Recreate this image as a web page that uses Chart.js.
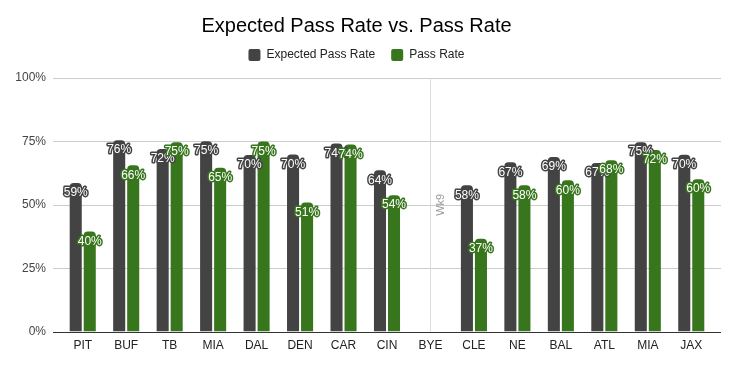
<!DOCTYPE html>
<html lang="en">
<head>
    <meta charset="UTF-8">
    <title>Expected Pass Rate vs. Pass Rate</title>
    <script src="https://cdn.jsdelivr.net/npm/chart.js"></script>
</head>
<body style="margin:0;background:#fff;">
    <div style="position:relative;width:736px;height:366px;">
        <canvas id="passChart"></canvas>
    </div>
    <script>
        // chart data (percent)
        const teams = ['PIT', 'BUF', 'TB', 'MIA', 'DAL', 'DEN', 'CAR', 'CIN', 'BYE', 'CLE', 'NE', 'BAL', 'ATL', 'MIA', 'JAX'];
        const expectedRate = [58.6, 75.5, 72, 75.1, 69.6, 69.8, 74.2, 63.6, null, 57.7, 66.8, 68.8, 66.5, 74.7, 69.7];
        const passRate = [39.5, 65.6, 74.7, 64.6, 75, 50.9, 73.8, 53.8, null, 36.6, 57.7, 59.7, 67.6, 71.6, 60.1];
        const yTicks = [0, 25, 50, 75, 100];
        const byeLabel = 'Wk9';

        const FONT = 'Arial, "Liberation Sans", sans-serif';

        // grid lines, bye week marker, baseline, value labels
        const extras = {
            id: 'extras',
            beforeInit(chart) {
                // leave a little room between legend and plot
                const lg = chart.legend;
                if (lg) {
                    const fit = lg.fit.bind(lg);
                    lg.fit = function () { fit(); this.height += 7; };
                }
            },
            beforeDatasetsDraw(chart) {
                const { ctx, chartArea, scales } = chart;
                const y = scales.y, x = scales.x;
                ctx.save();
                ctx.strokeStyle = '#cccccc';
                ctx.lineWidth = 1;
                yTicks.forEach(v => {
                    if (v === 0) return;
                    const py = Math.round(y.getPixelForValue(v)) + 0.5;
                    ctx.beginPath();
                    ctx.moveTo(chartArea.left - 8, py);
                    ctx.lineTo(chartArea.right + 8, py);
                    ctx.stroke();
                });
                // bye week line
                const bi = teams.indexOf('BYE');
                const bx = Math.round(x.getPixelForValue(bi)) + 0.5;
                ctx.strokeStyle = '#dddddd';
                ctx.beginPath();
                ctx.moveTo(bx, y.getPixelForValue(100));
                ctx.lineTo(bx, y.getPixelForValue(0));
                ctx.stroke();
                ctx.translate(bx + 10, y.getPixelForValue(50));
                ctx.rotate(-Math.PI / 2);
                ctx.fillStyle = '#999999';
                ctx.font = '11px ' + FONT;
                ctx.textAlign = 'center';
                ctx.textBaseline = 'middle';
                ctx.fillText(byeLabel, 0, 0);
                ctx.restore();
            },
            afterDatasetsDraw(chart) {
                const { ctx, chartArea, scales } = chart;
                ctx.save();
                const py = Math.round(scales.y.getPixelForValue(0)) + 0.5;
                ctx.strokeStyle = '#333333';
                ctx.lineWidth = 1;
                ctx.beginPath();
                ctx.moveTo(chartArea.left - 8, py);
                ctx.lineTo(chartArea.right + 8, py);
                ctx.stroke();

                ctx.font = '12px ' + FONT;
                ctx.textAlign = 'center';
                ctx.textBaseline = 'middle';
                ctx.lineJoin = 'round';
                ctx.lineWidth = 3;
                chart.data.datasets.forEach((ds, di) => {
                    const meta = chart.getDatasetMeta(di);
                    meta.data.forEach((bar, i) => {
                        const v = ds.data[i];
                        if (v === null) return;
                        const txt = Math.round(v) + '%';
                        ctx.strokeStyle = ds.backgroundColor;
                        ctx.fillStyle = '#ffffff';
                        ctx.strokeText(txt, bar.x, bar.y + 10);
                        ctx.fillText(txt, bar.x, bar.y + 10);
                    });
                });
                ctx.restore();
            }
        };

        new Chart(document.getElementById('passChart'), {
            type: 'bar',
            data: {
                labels: teams,
                datasets: [
                    {
                        label: 'Expected Pass Rate',
                        data: expectedRate,
                        backgroundColor: '#434343',
                        borderRadius: { topLeft: 4, topRight: 4 },
                        borderSkipped: 'bottom',
                        categoryPercentage: 0.645,
                        barPercentage: 0.86
                    },
                    {
                        label: 'Pass Rate',
                        data: passRate,
                        backgroundColor: '#38761d',
                        borderRadius: { topLeft: 4, topRight: 4 },
                        borderSkipped: 'bottom',
                        categoryPercentage: 0.645,
                        barPercentage: 0.86
                    }
                ]
            },
            options: {
                responsive: true,
                maintainAspectRatio: false,
                animation: false,
                layout: { padding: { top: 0, right: 23, bottom: 6, left: 0 } },
                plugins: {
                    title: {
                        display: true,
                        text: 'Expected Pass Rate vs. Pass Rate',
                        color: '#000000',
                        font: { family: FONT, size: 20, weight: 'normal' },
                        padding: { top: 14, bottom: -5 }
                    },
                    legend: {
                        display: true,
                        labels: {
                            color: '#222222',
                            font: { family: FONT, size: 12 },
                            boxWidth: 12,
                            boxHeight: 12,
                            useBorderRadius: true,
                            borderRadius: 2,
                            padding: 16
                        }
                    },
                    tooltip: { enabled: false }
                },
                scales: {
                    x: {
                        grid: { display: false, drawTicks: false },
                        border: { display: false },
                        ticks: { color: '#222222', font: { family: FONT, size: 12 }, padding: 7, autoSkip: false, maxRotation: 0 }
                    },
                    y: {
                        min: 0,
                        max: 100,
                        afterFit(scale) { scale.width = 61; },
                        afterBuildTicks(scale) { scale.ticks = yTicks.map(v => ({ value: v })); },
                        grid: { display: false, drawTicks: false },
                        border: { display: false },
                        ticks: { color: '#444444', font: { family: FONT, size: 12 }, padding: 15, callback: v => v + '%' }
                    }
                }
            },
            plugins: [extras]
        });
    </script>
</body>
</html>
